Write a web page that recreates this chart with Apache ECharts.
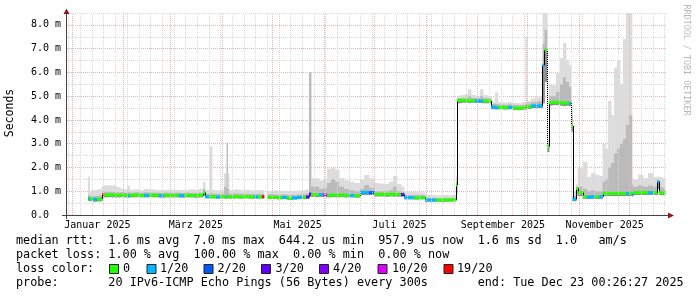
<!DOCTYPE html>
<html><head><meta charset="utf-8">
<script src="https://cdn.jsdelivr.net/npm/echarts@6/dist/echarts.min.js"></script>
<style>html,body{margin:0;padding:0;background:#fff}#c{width:697px;height:297px}</style>
</head><body><div id="c"></div><script>
// ---- data (days since 2025-01-01, values in ms) ----
const dayOffsets = [
  9.6,10.5,12.6,15.0,16.8,18.0,19.2,21.6,24.0,26.4,
  28.8,31.2,33.3,34.5,37.2,40.1,43.1,46.1,49.1,52.1,
  55.1,58.1,61.1,64.1,67.1,70.1,73.1,76.1,78.5,79.7,
  82.4,83.9,86.3,88.7,91.1,92.6,93.2,94.1,97.1,100.1,
  103.1,106.1,109.1,111.4,113.8,115.0,116.8,119.8,122.8,125.8,
  128.8,131.8,134.8,137.8,140.2,142.0,143.2,145.6,148.0,150.4,
  152.8,155.2,157.6,160.0,163.0,166.0,169.0,172.6,175.0,178.0,
  181.0,183.9,186.9,189.9,192.3,194.7,197.1,198.9,201.9,204.9,
  207.9,211.5,214.5,218.1,221.7,225.3,227.7,230.1,230.7,233.1,
  235.5,237.3,239.1,241.5,244.5,246.3,248.7,251.1,253.4,255.2,
  258.2,261.2,264.2,267.2,269.6,271.7,272.6,275.0,277.4,279.8,
  281.9,283.1,284.6,285.8,287.6,290.0,292.4,294.2,296.0,297.8,
  299.0,299.9,302.0,302.9,306.2,308.6,311.0,313.4,315.8,317.9,
  319.4,321.2,323.0,324.8,326.5,328.3,330.1,331.9,333.7,335.5,
  336.1,339.1,342.1,345.1,348.1,350.8,351.7,353.5
];
const dataEndDay = 355.3;
const medianMs = [
  .68,.68,.66,.67,.68,.84,.84,.85,.84,.83,
  .84,.83,.82,.83,.84,.82,.83,.84,.83,.82,
  .83,.82,.83,.82,.83,.82,.82,.83,.94,.77,
  .77,.77,.76,.77,.76,.77,.77,.76,.77,.76,
  .77,.76,.76,.76,.77,null,.74,.74,.73,.74,
  .70,.72,.74,.74,.76,.88,.86,.84,.86,.84,
  .83,.84,.83,.84,.83,.82,.81,.95,.95,.94,
  .87,.87,.86,.87,.86,.86,.86,.73,.73,.72,
  .73,.63,.63,.62,.63,.63,.64,1.26,4.82,4.82,
  4.81,4.80,4.81,4.80,4.80,4.80,4.79,4.55,4.52,4.53,
  4.52,4.53,4.50,4.49,4.52,4.54,4.55,4.59,4.59,4.60,
  6.30,6.95,2.88,4.72,4.74,4.74,4.72,4.70,4.72,4.70,
  3.75,.66,1.12,.94,.77,.76,.77,.76,.77,.91,
  .91,.91,.91,.90,.91,.91,.90,.91,.91,.87,
  .94,.94,.94,.94,.94,1.40,.94,.93
];
const smokeLowMs = [
  .60,.58,.56,.57,.58,.74,.74,.75,.74,.74,
  .75,.74,.73,.74,.75,.74,.74,.75,.74,.73,
  .74,.74,.74,.73,.74,.74,.73,.74,.80,.70,
  .70,.70,.69,.70,.69,.70,.70,.69,.70,.69,
  .70,.69,.69,.69,.70,null,.67,.67,.66,.67,
  .63,.65,.67,.67,.68,.78,.76,.75,.76,.75,
  .74,.75,.74,.75,.74,.74,.73,.84,.84,.84,
  .78,.78,.77,.78,.77,.77,.77,.66,.66,.65,
  .66,.56,.56,.56,.56,.57,.57,.90,4.70,4.72,
  4.72,4.71,4.72,4.71,4.71,4.70,4.70,4.45,4.44,4.45,
  4.44,4.45,4.42,4.41,4.43,4.45,4.46,4.50,4.50,4.50,
  4.70,5.60,2.65,4.60,4.62,4.62,4.60,4.58,4.60,4.58,
  3.50,.58,.90,.80,.68,.67,.68,.67,.68,.80,
  .80,.80,.80,.79,.80,.80,.79,.80,.80,.78,
  .84,.84,.84,.84,.84,1.10,.84,.83
];
const smokeMidMs = [
  .85,.80,.80,.82,.85,.98,.98,.98,.97,.96,
  .96,.95,.98,.95,.96,.95,.96,.95,.95,.94,
  .95,.94,.95,.94,.95,.94,.94,.95,1.10,.90,
  .92,.90,.90,.90,1.20,3.04,1.10,.90,.92,.90,
  .90,.89,.90,.89,.90,null,.88,.87,.86,.87,
  .84,.86,.87,.88,.90,6.0,1.20,1.20,1.10,1.15,
  1.35,1.50,1.40,1.20,1.10,1.05,1.00,1.10,1.26,1.15,
  1.00,1.00,1.00,1.05,1.20,1.00,.98,.85,.84,.84,
  .84,.74,.73,.72,.73,.73,.74,1.40,4.92,4.92,
  4.95,5.00,4.93,4.92,5.00,4.93,4.92,4.68,4.68,4.66,
  4.65,4.66,4.64,4.62,4.65,4.70,4.70,4.75,4.78,4.80,
  7.20,7.80,3.00,5.00,5.00,5.20,5.50,5.80,5.60,5.40,
  4.20,.80,1.20,1.20,1.10,1.00,1.05,1.00,1.00,1.40,
  1.50,2.00,2.20,2.60,2.80,3.00,3.20,3.80,4.20,1.30,
  1.20,1.25,1.20,1.25,1.20,1.50,1.20,1.15
];
const smokeHighMs = [
  1.62,1.02,1.05,1.08,1.10,1.22,1.25,1.26,1.25,1.18,
  1.10,1.08,1.24,1.06,1.08,1.05,1.10,1.08,1.06,1.05,
  1.06,1.07,1.06,1.05,1.06,1.08,1.06,1.10,1.40,1.05,
  2.88,1.05,1.04,1.05,1.75,3.04,1.75,1.05,1.08,1.04,
  1.06,1.04,1.05,1.04,1.05,null,1.02,1.03,1.02,1.02,
  1.00,1.02,1.03,1.04,1.08,6.0,1.55,1.55,1.45,1.50,
  1.95,1.98,1.90,1.55,1.45,1.40,1.35,1.50,1.68,1.55,
  1.35,1.32,1.30,1.40,1.64,1.30,1.20,.98,.97,.96,
  .95,.84,.84,.82,.84,.83,.85,1.60,5.02,5.05,
  5.10,5.29,5.05,5.02,5.29,5.05,5.00,4.75,5.15,4.75,
  4.73,4.75,4.72,4.70,4.75,7.50,4.80,4.90,4.95,4.98,
  8.50,8.50,3.15,5.47,5.47,5.97,6.60,7.24,6.50,6.30,
  4.60,1.00,1.30,1.97,2.24,1.60,1.76,1.69,1.65,3.00,
  2.80,4.80,4.20,6.20,6.50,5.50,7.40,8.50,8.50,1.60,
  1.50,1.70,1.55,1.76,1.60,1.62,1.60,1.55
];
// loss level index into lossColors: 0 = 0, 1 = 1/20, 2 = 2/20, 3 = 3/20, 4 = 4/20, 5 = 10/20, 6 = 19/20
const lossLevel = [
  1,0,1,0,0,6,0,0,0,0,
  0,0,1,0,0,0,1,0,0,1,
  0,0,0,1,0,0,0,0,0,1,
  0,0,1,0,0,1,0,0,0,0,
  0,0,1,0,6,0,0,0,0,1,
  0,1,1,0,3,3,0,0,1,5,
  0,0,0,0,0,1,0,1,1,2,
  0,0,0,0,0,0,3,1,1,0,
  0,1,1,0,0,0,0,0,0,0,
  0,0,0,1,1,0,0,1,1,0,
  0,1,0,0,0,0,0,1,1,1,
  1,0,0,0,0,0,0,0,0,1,
  0,1,0,0,0,1,1,0,1,0,
  0,0,0,0,0,0,0,1,0,1,
  0,0,0,1,0,1,0,0
];
const lossColors = ['#26ff00','#00b8ff','#0059ff','#5e00ff','#7e00ff','#dd00ff','#ff0000'];
const lossLabels = ['0','1/20','2/20','3/20','4/20','10/20','19/20'];
const xTickLabels = ['Januar 2025','März 2025','Mai 2025','Juli 2025','September 2025','November 2025'];
const xTickMonths = [0,2,4,6,8,10];
const legendLines = [
  'median rtt:  1.6 ms avg  7.0 ms max  644.2 us min  957.9 us now  1.6 ms sd  1.0   am/s',
  'packet loss: 1.00 % avg  100.00 % max  0.00 % min  0.00 % now',
  'loss color:',
  'probe:       20 IPv6-ICMP Echo Pings (56 Bytes) every 300s       end: Tue Dec 23 00:26:27 2025'
];
const yAxisTitle = 'Seconds';
const watermark = 'RRDTOOL / TOBI OETIKER';

// ---- helpers ----
const DAY = 86400000;
const dayOf = (y, m, d) => (Date.UTC(y, m, d) - Date.UTC(2025, 0, 1)) / DAY;
const xMin = -3.0, xMax = 356.5;
const monthStarts = [];
for (let m = 0; m < 12; m++) monthStarts.push(dayOf(2025, m, 1));
const weekLines = [];
for (let d = dayOf(2024, 11, 30); d <= xMax; d += 7) weekLines.push(d);
const labelDays = xTickMonths.map(m => dayOf(2025, m, 1) + 15.2);

const MONO = 'DejaVu Sans Mono';
const LEGEND_FONT = '11.8px "' + MONO + '"';
const GRID_RED = '#ebb4b4', GRID_GRAY = '#d9d9d9';
const n = dayOffsets.length;
const binEnd = i => (i + 1 < n ? dayOffsets[i + 1] : dataEndDay);

const chart = echarts.init(document.getElementById('c'), null, {renderer: 'canvas'});

const gridMarks = weekLines.map(d => ({xAxis: d, lineStyle: {color: GRID_GRAY}}))
  .concat(monthStarts.map(d => ({xAxis: d, lineStyle: {color: GRID_RED}})));

const legendGraphics = [];
legendLines.forEach((t, k) => {
  legendGraphics.push({type: 'text', x: 16, y: 241 + 14 * k,
    style: {text: t, font: LEGEND_FONT, fill: '#000', textVerticalAlign: 'middle'}});
});
const boxX = [109, 146.5, 203.5, 261, 319, 377.5, 443.5];
const lblX = [123, 160, 217.5, 275.5, 333, 392, 457];
lossColors.forEach((c, k) => {
  legendGraphics.push({type: 'rect', shape: {x: boxX[k] + 0.5, y: 264.5, width: 9, height: 9},
    style: {fill: c, stroke: '#222', lineWidth: 1}});
  legendGraphics.push({type: 'text', x: lblX[k], y: 269,
    style: {text: lossLabels[k], font: LEGEND_FONT, fill: '#000', textVerticalAlign: 'middle'}});
});

chart.setOption({
  animation: false,
  backgroundColor: '#fff',
  grid: {left: 67, top: 13, width: 600, height: 202, containLabel: false},
  xAxis: {
    type: 'value', min: xMin, max: xMax,
    axisLine: {show: false}, axisTick: {show: false}, splitLine: {show: false},
    axisLabel: {
      customValues: labelDays, margin: 5,
      fontFamily: MONO, fontSize: 10, color: '#000',
      formatter: v => { const k = labelDays.findIndex(d => Math.abs(d - v) < 0.01); return k >= 0 ? xTickLabels[k] : ''; }
    }
  },
  yAxis: {
    type: 'value', min: 0, max: 8.5, interval: 0.5,
    axisLine: {show: false}, axisTick: {show: false},
    splitLine: {show: true, lineStyle: {color: [GRID_RED, GRID_GRAY], type: [1, 1], width: 1}},
    axisLabel: {
      margin: 6, fontFamily: MONO, fontSize: 10, color: '#000',
      formatter: v => (Math.abs(v % 1) < 1e-9 ? (v === 0 ? '0.0\u00a0\u00a0' : v.toFixed(1) + ' m') : '')
    }
  },
  series: [
    { // vertical time grid (behind the smoke)
      type: 'line', z: 1, data: [[xMin - 10, -1]], symbol: 'none', lineStyle: {opacity: 0}, silent: true,
      markLine: {silent: true, symbol: ['none', 'none'], label: {show: false}, animation: false,
        lineStyle: {type: [1, 1], width: 1}, data: gridMarks}
    },
    { // smoke
      type: 'custom', z: 2, clip: true, silent: true,
      data: dayOffsets.map((d, i) => [d, medianMs[i]]),
      renderItem: (params, api) => {
        const i = params.dataIndex;
        if (medianMs[i] == null) return null;
        const x0 = api.coord([dayOffsets[i], 0])[0];
        const x1 = api.coord([binEnd(i), 0])[0];
        const y = v => api.coord([dayOffsets[i], v])[1];
        const w = x1 - x0 + 0.4;
        const band = (a, b, col) => ({type: 'rect', shape: {x: x0, y: y(b), width: w, height: Math.max(0, y(a) - y(b))}, style: {fill: col}});
        return {type: 'group', children: [
          band(smokeMidMs[i], smokeHighMs[i], '#dcdcdc'),
          band(medianMs[i], smokeMidMs[i], '#bababa'),
          band(smokeLowMs[i], medianMs[i], '#8e8e8e')
        ]};
      }
    },
    { // median, coloured by loss
      type: 'custom', z: 3, clip: true, silent: true,
      data: dayOffsets.map((d, i) => [d, medianMs[i]]),
      renderItem: (params, api) => {
        const i = params.dataIndex;
        const m = medianMs[i];
        if (m == null) return null;
        const p0 = api.coord([dayOffsets[i], m]);
        const x1 = api.coord([binEnd(i), m])[0];
        const ch = [{type: 'rect', shape: {x: p0[0], y: p0[1] - 1.5, width: x1 - p0[0] + 0.4, height: 3},
          style: {fill: lossColors[lossLevel[i]]}}];
        if (i + 1 < n && medianMs[i + 1] != null) {
          const y2 = api.coord([binEnd(i), medianMs[i + 1]])[1];
          ch.push({type: 'line', shape: {x1: Math.round(x1) + 0.5, y1: p0[1], x2: Math.round(x1) + 0.5, y2: y2},
            style: {stroke: '#000', lineWidth: 1}});
        }
        return {type: 'group', children: ch};
      }
    }
  ],
  graphic: [
    {type: 'line', shape: {x1: 66.5, y1: 219, x2: 66.5, y2: 13}, style: {stroke: '#444', lineWidth: 1}, z: 100},
    {type: 'polygon', shape: {points: [[63.5, 14], [69.5, 14], [66.5, 8.5]]}, style: {fill: '#8b1a1a'}, z: 100},
    {type: 'line', shape: {x1: 62, y1: 215.5, x2: 669, y2: 215.5}, style: {stroke: '#444', lineWidth: 1}, z: 100},
    {type: 'polygon', shape: {points: [[668, 212.5], [668, 218.5], [674, 215.5]]}, style: {fill: '#8b1a1a'}, z: 100},
    {type: 'text', x: 10, y: 113, rotation: Math.PI / 2,
      style: {text: yAxisTitle, font: '11.5px "' + MONO + '"', fill: '#000', textAlign: 'center', textVerticalAlign: 'middle'}},
    {type: 'text', x: 686, y: 60, rotation: -Math.PI / 2,
      style: {text: watermark, font: '8.4px "' + MONO + '"', fill: '#b8b8b8', textAlign: 'center', textVerticalAlign: 'middle'}}
  ].concat(legendGraphics)
});
</script></body></html>
